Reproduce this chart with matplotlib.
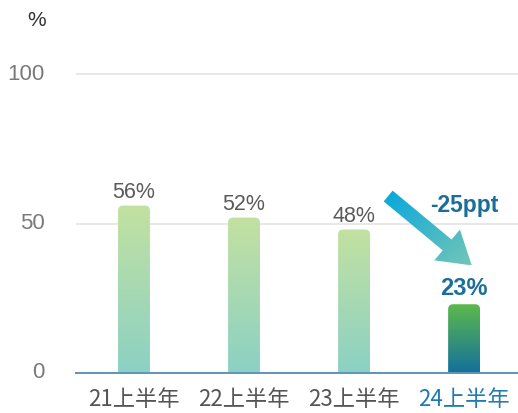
import numpy as np
import matplotlib
matplotlib.use('Agg')
import matplotlib.pyplot as plt
from matplotlib.patches import FancyBboxPatch, Polygon
from matplotlib.colors import LinearSegmentedColormap

plt.rcParams['font.family'] = ['Noto Sans CJK JP', 'DejaVu Sans']

# данные
periods = ['21上半年', '22上半年', '23上半年', '24上半年']
shares = [56, 52, 48, 23]
change_label = '-25ppt'

NARROW = ['Liberation Sans Narrow', 'Liberation Sans', 'DejaVu Sans']

fig = plt.figure(figsize=(5.18, 4.13), dpi=100)
ax = fig.add_axes([76 / 518, 40 / 413, 442 / 518, 333 / 413])
ax.set_xlim(-0.527, 3.49)
ax.set_ylim(0, 111.4)

for s in ax.spines.values():
    s.set_visible(False)
ax.set_xticks([])
ax.set_yticks([])

# сетка
for g in [50, 100]:
    ax.axhline(g, color='#e6e6e6', lw=1.3, zorder=0)
ax.axhline(0, color='#5f95b8', lw=1.4, zorder=5, clip_on=False)

for g in [0, 50, 100]:
    ax.text(-0.81, g, str(g), ha='right', va='center', fontsize=16,
            color='#7a7a7a', family=NARROW)
fig.text(37 / 518, 1 - 21 / 413, '%', ha='center', va='center', fontsize=15,
         color='#333333', family=NARROW)

cm_normal = LinearSegmentedColormap.from_list('n', ['#8bd1c4', '#c3e1a1'])
cm_last = LinearSegmentedColormap.from_list('l', ['#13709c', '#5cb94c'])
grad = np.linspace(0, 1, 256).reshape(-1, 1)

width = 0.29
# перевод px в единицы данных
ux = 110.0
uy = 2.99
for i, (p, v) in enumerate(zip(periods, shares)):
    last = i == len(shares) - 1
    patch = FancyBboxPatch((i - width / 2, -5), width, v + 5,
                           boxstyle='round,pad=0,rounding_size=%f' % (5 / ux),
                           mutation_aspect=ux / uy, fc='none', ec='none')
    ax.add_patch(patch)
    im = ax.imshow(grad, extent=[i - width / 2, i + width / 2, 0, v],
                   origin='lower', aspect='auto',
                   cmap=cm_last if last else cm_normal, zorder=2)
    im.set_clip_path(patch)
    if last:
        ax.text(i, v + 5.2, f'{v}%', ha='center', va='center', fontsize=17,
                fontweight='bold', color='#1a6e9a', family=NARROW)
    else:
        ax.text(i, v + 4.3, f'{v}%', ha='center', va='center', fontsize=15.5,
                color='#5a5a5a', family=NARROW)
    ax.text(i, -8.8, p, ha='center', va='center', fontsize=16,
            color='#1f7bb0' if last else '#555555', clip_on=False)

ax.text(3.0, 56, change_label, ha='center', va='center', fontsize=16.5,
        fontweight='bold', color='#1a6e9a', family=NARROW)

# стрелка в пикселях
fig.canvas.draw()
tail = ax.transData.transform((2.31, 59.2))
tip = ax.transData.transform((3.07, 36.0))
d = tip - tail
L = np.hypot(*d)
u = d / L
n = np.array([-u[1], u[0]])
sw, hw, hl = 7, 20, 32
base = tip - u * hl
pts = [tail + n * sw, base + n * sw, base + n * hw, tip,
       base - n * hw, base - n * sw, tail - n * sw]
arrow = Polygon(pts, closed=True, fc='none', ec='none',
                transform=None)
ax.add_patch(arrow)
cm_arrow = LinearSegmentedColormap.from_list('a', ['#05a7de', '#74c6b6'])
xs = [p[0] for p in pts]
ys = [p[1] for p in pts]
inv = ax.transData.inverted()
x0, y1 = inv.transform((min(xs), max(ys)))
x1, y0 = inv.transform((max(xs), min(ys)))
gx = np.linspace(0, 1, 256)
gy = np.linspace(0, 1, 256)
GX, GY = np.meshgrid(gx, gy)
G = (GX + (1 - GY)) / 2
im = ax.imshow(G, extent=[x0, x1, y0, y1], origin='lower', aspect='auto',
               cmap=cm_arrow, zorder=4)
im.set_clip_path(arrow)

ax.set_xlim(-0.527, 3.49)
ax.set_ylim(0, 111.4)

fig.savefig('out.png', dpi=100)
